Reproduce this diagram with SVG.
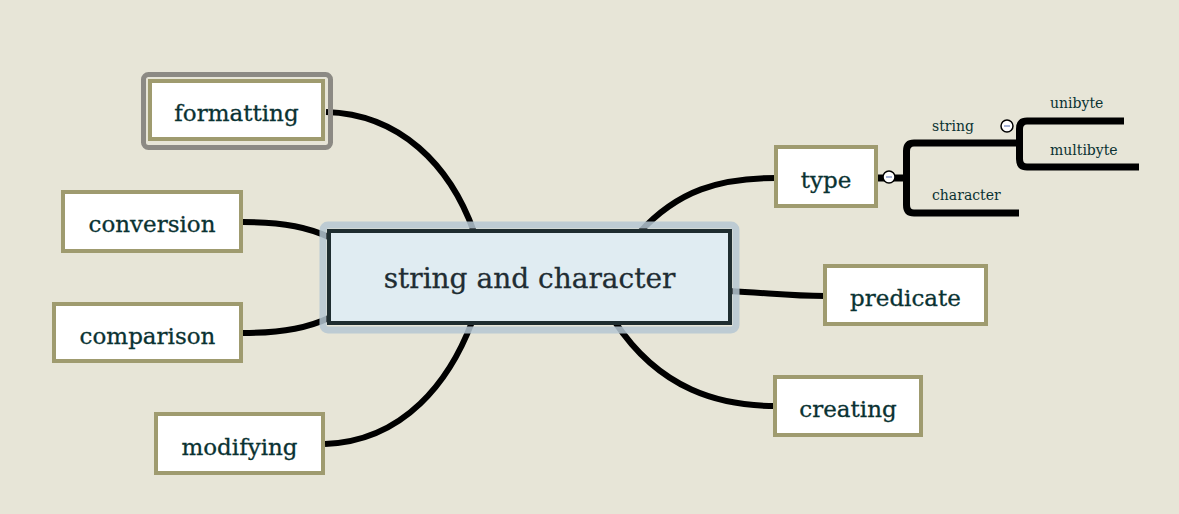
<svg xmlns="http://www.w3.org/2000/svg" width="1179" height="514" viewBox="0 0 1179 514">
<style>
.bg{fill:#e7e5d7}
.node rect.box{fill:#ffffff;stroke:#9f9b6f;stroke-width:4}
.node text{font-family:"DejaVu Serif","Liberation Serif",serif;font-size:23px;fill:#0a3232;text-anchor:middle;stroke:#0a3232;stroke-width:0.3}
.conn path{fill:none;stroke:#000;stroke-width:6;stroke-linecap:butt}
.br{fill:none;stroke:#000;stroke-width:7}
.sub{font-family:"DejaVu Serif","Liberation Serif",serif;font-size:14px;fill:#0a3232}
.tog circle{fill:#fff;stroke:#000;stroke-width:1.5}
.tog line{stroke:#8a9ac8;stroke-width:1.5}
</style>
<rect class="bg" x="0" y="0" width="1179" height="514"/>
<g id="connectors" class="conn">
<path d="M326,112 C400,114 450,165 474,232"/>
<path d="M243,222 C285,222 310,228 331,238"/>
<path d="M243,333 C285,333 310,327 331,317"/>
<path d="M325,444 C405,441 450,380 472,322"/>
<path d="M639,233 C678,190 720,178 776,178"/>
<path d="M729,291 C770,293 790,296 825,296"/>
<path d="M615,322 C660,390 720,406 776,406"/>
</g>
<g id="center" class="node">
<rect x="323" y="225" width="413" height="105" rx="5" fill="none" stroke="#b5c7d2" stroke-width="7" opacity="0.85"/>
<rect x="329" y="231" width="401" height="92" fill="#e0ecf2" stroke="#1f2d30" stroke-width="4"/>
<text x="529.5" y="288" style="font-size:28px;fill:#1f2d33;stroke:#1f2d33">string and character</text>
</g>
<g id="formatting" class="node">
<rect x="143.5" y="74.5" width="187" height="73" rx="5" fill="none" stroke="#8c8a84" stroke-width="5"/>
<rect class="box" x="150" y="81" width="173" height="58"/>
<text x="236.5" y="121">formatting</text>
</g>
<g id="conversion" class="node">
<rect class="box" x="63" y="192" width="178" height="59"/>
<text x="152" y="232">conversion</text>
</g>
<g id="comparison" class="node">
<rect class="box" x="54" y="304" width="187" height="57"/>
<text x="147.5" y="344">comparison</text>
</g>
<g id="modifying" class="node">
<rect class="box" x="156" y="414" width="167" height="59"/>
<text x="239.5" y="455">modifying</text>
</g>
<g id="type" class="node">
<rect class="box" x="776" y="147" width="100" height="59"/>
<text x="826" y="188">type</text>
</g>
<g id="predicate" class="node">
<rect class="box" x="825" y="266" width="161" height="58"/>
<text x="905.5" y="306">predicate</text>
</g>
<g id="creating" class="node">
<rect class="box" x="775" y="377" width="146" height="58"/>
<text x="848" y="417">creating</text>
</g>
<g id="type-children">
<path class="br" d="M878,178 H906"/>
<path class="br" d="M1017,143 H914 Q906.5,143 906.5,151 V205 Q906.5,213 914,213 H1019"/>
<path class="br" d="M1124,121 H1027 Q1019.5,121 1019.5,129 V159 Q1019.5,167 1027,167 H1139"/>
<path class="br" d="M1017,143 H1019.5"/>
<g class="tog"><circle cx="889" cy="177" r="6"/><line x1="886" y1="177" x2="892" y2="177"/></g>
<g class="tog"><circle cx="1007" cy="126" r="6"/><line x1="1004" y1="126" x2="1010" y2="126"/></g>
<text id="string" class="sub" x="932" y="131">string</text>
<text id="character" class="sub" x="932" y="200">character</text>
<text id="unibyte" class="sub" x="1050" y="108">unibyte</text>
<text id="multibyte" class="sub" x="1050" y="155">multibyte</text>
</g>
</svg>
